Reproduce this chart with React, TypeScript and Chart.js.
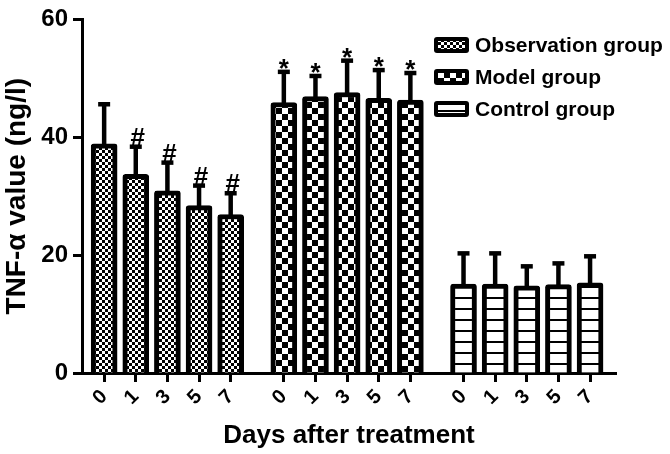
import React, { useEffect, useRef } from 'react';
import { Chart, registerables } from 'chart.js';

Chart.register(...registerables);

// ---------- data ----------
const DAYS = ['0', '1', '3', '5', '7'];
const GROUP_LABELS = ['Observation group', 'Model group', 'Control group'];
const observationMeans = [38.9, 33.7, 30.9, 28.4, 26.9];
const observationSD = [6.7, 4.7, 4.8, 3.4, 3.6];
const modelMeans = [45.9, 46.9, 47.6, 46.6, 46.3];
const modelSD = [5.2, 3.5, 5.4, 4.8, 4.6];
const controlMeans = [15.1, 15.1, 14.8, 15.0, 15.3];
const controlSD = [5.2, 5.2, 3.3, 3.6, 4.5];
const observationMarks = ['', '#', '#', '#', '#'];
const modelMarks = ['*', '*', '*', '*', '*'];
const controlMarks = ['', '', '', '', ''];
const Y_TICKS = [0, 20, 40, 60];
const Y_TITLE = 'TNF-α value (ng/l)';
const X_TITLE = 'Days after treatment';

// ---------- layout constants ----------
const GROUP_STRIDE = 5.68; // distance between group starts, in bar slots
const FONT = '"Liberation Sans", Arial, sans-serif';

const MEANS = [observationMeans, modelMeans, controlMeans];
const SDS = [observationSD, modelSD, controlSD];
const MARKS = [observationMarks, modelMarks, controlMarks];

const tickPositions: number[] = [];
const tickLabels: string[] = [];
MEANS.forEach((_, g) => {
  DAYS.forEach((d, i) => {
    tickPositions.push(g * GROUP_STRIDE + i);
    tickLabels.push(d);
  });
});

function makePattern(kind: string): CanvasPattern | string {
  const c = document.createElement('canvas');
  const ctx = c.getContext('2d');
  if (!ctx) return '#888';
  if (kind === 'fine') {
    c.width = 6; c.height = 6;
    ctx.fillStyle = '#fff'; ctx.fillRect(0, 0, 6, 6);
    ctx.fillStyle = '#000'; ctx.fillRect(0, 0, 3, 3); ctx.fillRect(3, 3, 3, 3);
  } else if (kind === 'coarse') {
    c.width = 12; c.height = 12;
    ctx.fillStyle = '#fff'; ctx.fillRect(0, 0, 12, 12);
    ctx.fillStyle = '#000'; ctx.fillRect(0, 0, 6, 6); ctx.fillRect(6, 6, 6, 6);
  } else {
    c.width = 4; c.height = 11;
    ctx.fillStyle = '#fff'; ctx.fillRect(0, 0, 4, 11);
    ctx.fillStyle = '#000'; ctx.fillRect(0, 0, 4, 2);
  }
  return ctx.createPattern(c, 'repeat') || '#888';
}

const errorBarPlugin = {
  id: 'errorBars',
  afterDatasetsDraw(chart: any) {
    const ctx = chart.ctx;
    const yScale = chart.scales.y;
    chart.data.datasets.forEach((ds: any, di: number) => {
      const meta = chart.getDatasetMeta(di);
      meta.data.forEach((bar: any, i: number) => {
        const v = MEANS[di][i];
        const top = yScale.getPixelForValue(v + SDS[di][i]);
        const x = bar.x;
        ctx.save();
        ctx.strokeStyle = '#000';
        ctx.lineWidth = 4.5;
        ctx.lineCap = 'butt';
        ctx.beginPath();
        ctx.moveTo(x, bar.y + 2);
        ctx.lineTo(x, top);
        ctx.stroke();
        ctx.beginPath();
        ctx.moveTo(x - 6, top);
        ctx.lineTo(x + 6, top);
        ctx.stroke();
        const m = MARKS[di][i];
        if (m) {
          ctx.fillStyle = '#000';
          ctx.textAlign = 'center';
          ctx.textBaseline = 'alphabetic';
          if (m === '#') {
            ctx.font = `bold 26px ${FONT}`;
            ctx.fillText(m, x + 2, top - 1);
          } else {
            ctx.font = `bold 26px ${FONT}`;
            ctx.fillText(m, x, top + 5);
          }
        }
        ctx.restore();
      });
    });
  },
};

function roundRect(ctx: CanvasRenderingContext2D, x: number, y: number, w: number, h: number, r: number) {
  ctx.beginPath();
  ctx.moveTo(x + r, y);
  ctx.lineTo(x + w - r, y);
  ctx.quadraticCurveTo(x + w, y, x + w, y + r);
  ctx.lineTo(x + w, y + h - r);
  ctx.quadraticCurveTo(x + w, y + h, x + w - r, y + h);
  ctx.lineTo(x + r, y + h);
  ctx.quadraticCurveTo(x, y + h, x, y + h - r);
  ctx.lineTo(x, y + r);
  ctx.quadraticCurveTo(x, y, x + r, y);
  ctx.closePath();
}

const legendPlugin = {
  id: 'patternLegend',
  afterDraw(chart: any) {
    const ctx = chart.ctx;
    chart.data.datasets.forEach((ds: any, i: number) => {
      const cy = 45 + i * 32;
      const bx = 434, bw = 35, bh = 16;
      ctx.save();
      ctx.fillStyle = '#000';
      roundRect(ctx, bx, cy - bh / 2, bw, bh, 3);
      ctx.fill();
      ctx.fillStyle = ds.backgroundColor;
      ctx.fillRect(bx + 4, cy - bh / 2 + 4, bw - 8, bh - 8);
      ctx.fillStyle = '#000';
      ctx.font = `bold 21px ${FONT}`;
      ctx.textAlign = 'left';
      ctx.textBaseline = 'middle';
      ctx.fillText(ds.label, 475, cy + 1);
      ctx.restore();
    });
  },
};

export default function App() {
  const ref = useRef<HTMLCanvasElement>(null);
  useEffect(() => {
    document.body.style.margin = '0';
    if (!ref.current) return;
    const patterns = [makePattern('fine'), makePattern('coarse'), makePattern('stripes')];
    const datasets = MEANS.map((vals, g) => ({
      label: GROUP_LABELS[g],
      data: vals.map((v, i) => ({ x: g * GROUP_STRIDE + i, y: v })),
      backgroundColor: patterns[g] as any,
      borderColor: '#000',
      borderWidth: 5,
      borderRadius: 3,
      borderSkipped: 'start' as const,
      grouped: false,
      barThickness: 26,
    }));
    const chart = new Chart(ref.current, {
      type: 'bar',
      data: { datasets },
      plugins: [errorBarPlugin, legendPlugin],
      options: {
        animation: false,
        responsive: false,
        devicePixelRatio: 1,
        layout: { padding: { top: 15, right: 54, left: 0, bottom: 0 } },
        plugins: { legend: { display: false }, tooltip: { enabled: false } },
        scales: {
          x: {
            type: 'linear',
            offset: false,
            min: -0.7,
            max: 2 * GROUP_STRIDE + 4 + 0.82,
            afterFit: (s: any) => { s.height = 81; },
            afterBuildTicks: (s: any) => { s.ticks = tickPositions.map((v) => ({ value: v })); },
            grid: { offset: false, drawOnChartArea: false, drawTicks: true, tickLength: 9, tickWidth: 3, tickColor: '#000' },
            border: { display: true, width: 3, color: '#000' },
            ticks: {
              autoSkip: false,
              maxRotation: 45,
              minRotation: 45,
              padding: 3,
              color: '#000',
              font: { family: FONT, size: 20, weight: 'bold' },
              callback: (_v: any, idx: number) => tickLabels[idx],
            },
            title: {
              display: true,
              text: X_TITLE,
              color: '#000',
              font: { family: FONT, size: 26, weight: 'bold' },
              padding: { top: 0, bottom: 3 },
            },
          },
          y: {
            min: 0,
            max: 60,
            afterFit: (s: any) => { s.width = 82; },
            afterBuildTicks: (s: any) => { s.ticks = Y_TICKS.map((v) => ({ value: v })); },
            grid: { drawOnChartArea: false, drawTicks: true, tickLength: 9, tickWidth: 3, tickColor: '#000' },
            border: { display: true, width: 3, color: '#000' },
            ticks: {
              padding: 5,
              color: '#000',
              font: { family: FONT, size: 24, weight: 'bold' },
            },
            title: {
              display: true,
              text: Y_TITLE,
              color: '#000',
              font: { family: FONT, size: 28, weight: 'bold' },
              padding: { top: 0, bottom: 0 },
            },
          },
        },
      } as any,
    });
    return () => chart.destroy();
  }, []);
  return (
    <div style={{ width: 670, height: 454 }}>
      <canvas ref={ref} width={670} height={454} style={{ display: 'block' }} />
    </div>
  );
}
